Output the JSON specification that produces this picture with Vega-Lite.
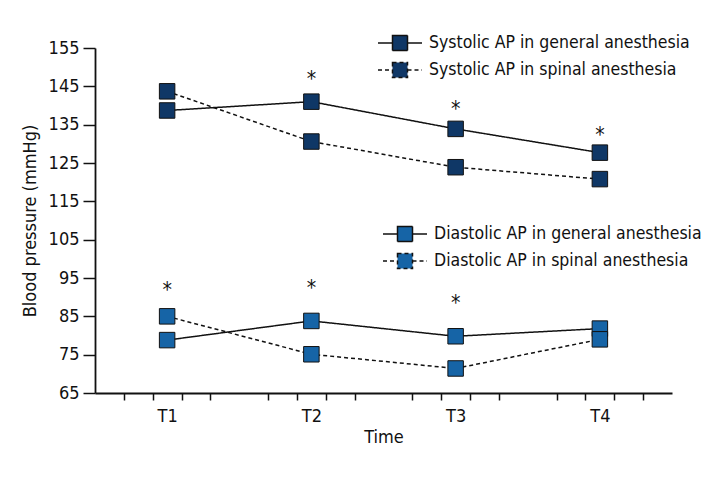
{
  "$schema": "https://vega.github.io/schema/vega-lite/v6.json",
  "width": 577,
  "height": 345,
  "autosize": {"type": "none"},
  "padding": {"left": 95, "top": 48, "right": 48, "bottom": 87},
  "background": "white",
  "config": {
    "font": "'DejaVu Sans Condensed', sans-serif",
    "view": {"stroke": null},
    "axis": {
      "grid": false,
      "domainColor": "#111111",
      "domainWidth": 1.8,
      "tickColor": "#111111",
      "tickWidth": 1.5,
      "labelFontSize": 18,
      "labelColor": "#111111",
      "titleFontSize": 18,
      "titleFontWeight": "normal",
      "titleColor": "#111111"
    },
    "legend": {
      "labelFontSize": 17.5,
      "labelColor": "#111111",
      "labelLimit": 400,
      "padding": 0,
      "rowPadding": 5
    }
  },
  "datasets": {
    "bp": [
      {"time": 1, "measure": "Systolic", "series": "Systolic AP in general anesthesia", "value": 138.7},
      {"time": 2, "measure": "Systolic", "series": "Systolic AP in general anesthesia", "value": 141.0},
      {"time": 3, "measure": "Systolic", "series": "Systolic AP in general anesthesia", "value": 133.9},
      {"time": 4, "measure": "Systolic", "series": "Systolic AP in general anesthesia", "value": 127.7},
      {"time": 1, "measure": "Systolic", "series": "Systolic AP in spinal anesthesia", "value": 143.7},
      {"time": 2, "measure": "Systolic", "series": "Systolic AP in spinal anesthesia", "value": 130.6},
      {"time": 3, "measure": "Systolic", "series": "Systolic AP in spinal anesthesia", "value": 123.9},
      {"time": 4, "measure": "Systolic", "series": "Systolic AP in spinal anesthesia", "value": 120.8},
      {"time": 1, "measure": "Diastolic", "series": "Diastolic AP in general anesthesia", "value": 78.8},
      {"time": 2, "measure": "Diastolic", "series": "Diastolic AP in general anesthesia", "value": 83.8},
      {"time": 3, "measure": "Diastolic", "series": "Diastolic AP in general anesthesia", "value": 79.8},
      {"time": 4, "measure": "Diastolic", "series": "Diastolic AP in general anesthesia", "value": 81.8},
      {"time": 1, "measure": "Diastolic", "series": "Diastolic AP in spinal anesthesia", "value": 85.0},
      {"time": 2, "measure": "Diastolic", "series": "Diastolic AP in spinal anesthesia", "value": 75.1},
      {"time": 3, "measure": "Diastolic", "series": "Diastolic AP in spinal anesthesia", "value": 71.4},
      {"time": 4, "measure": "Diastolic", "series": "Diastolic AP in spinal anesthesia", "value": 79.0}
    ],
    "stars": [
      {"time": 2, "value": 145.0},
      {"time": 3, "value": 137.2},
      {"time": 4, "value": 130.6},
      {"time": 1, "value": 90.1},
      {"time": 2, "value": 90.6},
      {"time": 3, "value": 86.7}
    ]
  },
  "encoding": {
    "x": {
      "field": "time",
      "type": "quantitative",
      "scale": {"domain": [0.5, 4.5], "nice": false, "zero": false},
      "axis": {
        "title": "Time",
        "values": [0.7, 0.9, 1, 1.1, 1.3, 1.7, 1.9, 2, 2.1, 2.3, 2.7, 2.9, 3, 3.1, 3.3, 3.7, 3.9, 4, 4.1, 4.3],
        "labelExpr": "datum.value % 1 === 0 ? 'T' + datum.value : ''",
        "tickOpacity": {"condition": {"test": "datum.value % 1 === 0", "value": 0}, "value": 1},
        "tickSize": 7,
        "labelPadding": 7,
        "labelOverlap": false,
        "labelFlush": false,
        "titlePadding": 3
      }
    },
    "y": {
      "field": "value",
      "type": "quantitative",
      "scale": {"domain": [65, 155], "nice": false, "zero": false},
      "axis": {
        "title": "Blood pressure (mmHg)",
        "values": [65, 75, 85, 95, 105, 115, 125, 135, 145, 155],
        "tickSize": 12,
        "labelPadding": 4,
        "titlePadding": 9
      }
    }
  },
  "layer": [
    {
      "data": {"name": "bp"},
      "transform": [{"filter": "datum.measure === 'Systolic'"}],
      "layer": [
        {
          "mark": {"type": "line", "color": "#111111", "strokeWidth": 1.5},
          "encoding": {
            "strokeDash": {
              "field": "series",
              "type": "nominal",
              "scale": {
                "domain": ["Systolic AP in general anesthesia", "Systolic AP in spinal anesthesia"],
                "range": [[1, 0], [4, 3]]
              },
              "legend": {
                "title": null,
                "orient": "none",
                "legendX": 285,
                "legendY": -14,
                "symbolType": "M-2.75,0H-0.9375M0.9375,0H2.75M-0.9375,-0.9375H0.9375V0.9375H-0.9375Z",
                "symbolSize": 256,
                "symbolStrokeWidth": 1.5,
                "symbolStrokeColor": "#111111",
                "symbolFillColor": "#0f3766",
                "symbolOffset": 11,
                "labelOffset": 20
              }
            }
          }
        },
        {
          "mark": {"type": "point", "shape": "square", "filled": true, "fill": "#0f3766", "stroke": "#111111", "strokeWidth": 1, "size": 240, "opacity": 1},
          "encoding": {"detail": {"field": "series", "type": "nominal"}}
        }
      ]
    },
    {
      "data": {"name": "bp"},
      "transform": [{"filter": "datum.measure === 'Diastolic'"}],
      "layer": [
        {
          "mark": {"type": "line", "color": "#111111", "strokeWidth": 1.5},
          "encoding": {
            "strokeDash": {
              "field": "series",
              "type": "nominal",
              "scale": {
                "domain": ["Diastolic AP in general anesthesia", "Diastolic AP in spinal anesthesia"],
                "range": [[1, 0], [4, 3]]
              },
              "legend": {
                "title": null,
                "orient": "none",
                "legendX": 290,
                "legendY": 177,
                "symbolType": "M-2.75,0H-0.9375M0.9375,0H2.75M-0.9375,-0.9375H0.9375V0.9375H-0.9375Z",
                "symbolSize": 256,
                "symbolStrokeWidth": 1.5,
                "symbolStrokeColor": "#111111",
                "symbolFillColor": "#1664a6",
                "symbolOffset": 11,
                "labelOffset": 20
              }
            }
          }
        },
        {
          "mark": {"type": "point", "shape": "square", "filled": true, "fill": "#1664a6", "stroke": "#111111", "strokeWidth": 1, "size": 240, "opacity": 1},
          "encoding": {"detail": {"field": "series", "type": "nominal"}}
        }
      ]
    },
    {
      "data": {"name": "stars"},
      "mark": {"type": "text", "fontSize": 21, "baseline": "alphabetic", "color": "#111111"},
      "encoding": {"text": {"value": "*"}}
    }
  ],
  "resolve": {"scale": {"strokeDash": "independent"}}
}
